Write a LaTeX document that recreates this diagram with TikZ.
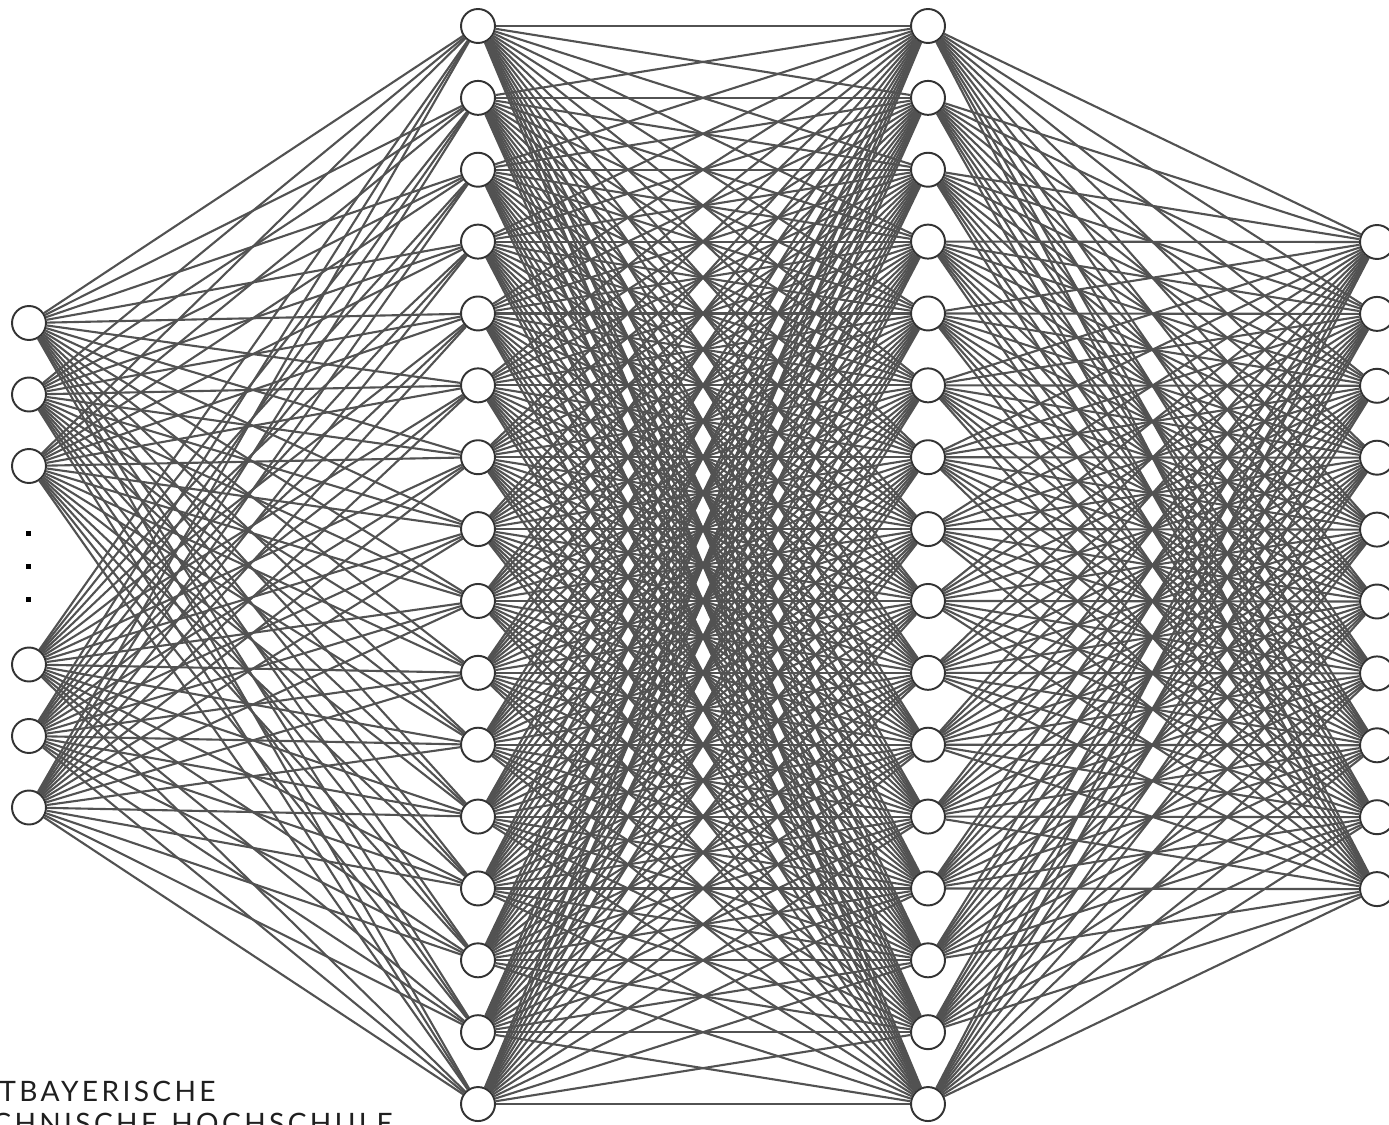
\documentclass[tikz,border=0pt]{standalone}
\usepackage{fontspec}
\newfontfamily\logofont[LetterSpace=12]{Lato}
\usetikzlibrary{backgrounds}
\begin{document}
\begin{tikzpicture}[x=0.02cm,y=-0.02cm,
  neuron/.style={circle, draw=black!80, fill=white, line width=1.1pt, minimum size=0.68cm, inner sep=0pt},
  edge/.style={draw=black!68, line width=1.2pt},
  dotmark/.style={rectangle, fill=black, minimum size=0.1cm, inner sep=0pt},
  logotext/.style={anchor=base west, inner sep=0pt, text=black!88, font=\logofont\fontsize{16}{18}\selectfont}]
\useasboundingbox (0,0) rectangle (1389,1125);
% input layer
\foreach \y [count=\i] in {323,394.5,466,664.5,736,807.5}
  \node[neuron] (i\i) at (29,\y) {};
\foreach \y [count=\i] in {533,566,599}
  \node[dotmark] (d\i) at (28,\y) {};
% hidden layers
\foreach \i in {1,...,16}
  \node[neuron] (a\i) at (478,{26+(\i-1)*71.87}) {};
\foreach \i in {1,...,16}
  \node[neuron] (b\i) at (928,{26+(\i-1)*71.87}) {};
% output layer
\foreach \i in {1,...,10}
  \node[neuron] (o\i) at (1377,{242+(\i-1)*71.9}) {};
% connections
\begin{scope}[on background layer]
  \foreach \s in {1,...,6}
    \foreach \t in {1,...,16}
      \draw[edge] (i\s) -- (a\t);
  \foreach \s in {1,...,16}
    \foreach \t in {1,...,16}
      \draw[edge] (a\s) -- (b\t);
  \foreach \s in {1,...,16}
    \foreach \t in {1,...,10}
      \draw[edge] (b\s) -- (o\t);
\end{scope}
% logo text (cut at the page edge as in the reference)
\node[logotext] (t1) at (-1,1101) {TBAYERISCHE};
\node[logotext] (t2) at (-8,1133) {CHNISCHE\hspace{8pt}HOCHSCHULE};
\end{tikzpicture}
\end{document}
